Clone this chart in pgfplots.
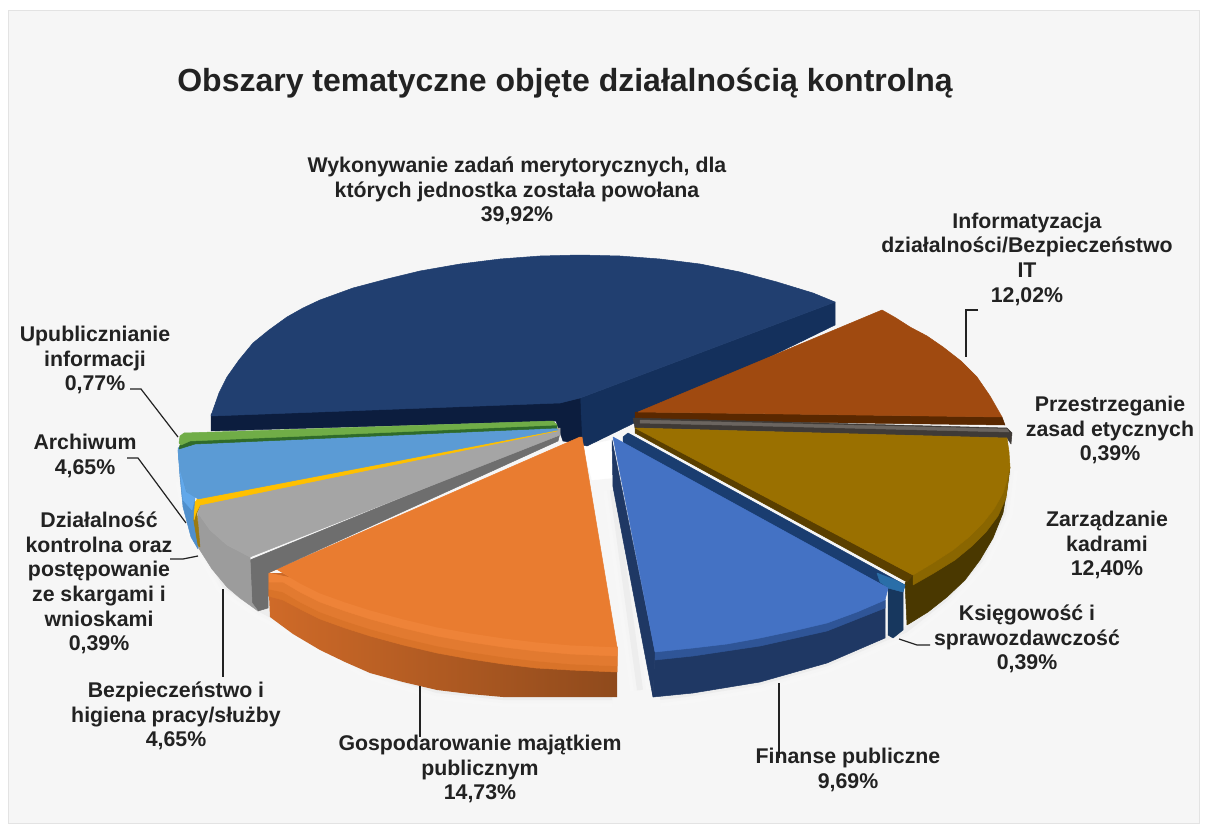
\documentclass[border=0pt]{standalone}
\usepackage{pgfplots}
\pgfplotsset{compat=1.18}
\usepackage{fontspec}
\setmainfont{Liberation Sans}
\definecolor{panel}{HTML}{F6F6F6}
\definecolor{ink}{HTML}{222222}
\newcommand\dc[1]{\definecolor{c#1}{HTML}{#1}}
\dc{14305C}\dc{0C1D3E}\dc{213F70}\dc{5A2800}\dc{A04A10}\dc{3F3A36}\dc{6B6560}\dc{4A3800}\dc{8A6600}\dc{5A3F00}\dc{9A7000}
\dc{17375E}\dc{1A3D70}\dc{2A6EA8}\dc{1F3864}\dc{2F5597}\dc{4472C4}\dc{CF6A28}\dc{EE8338}\dc{E27A30}\dc{D97329}\dc{8F4A1C}\dc{E97C30}
\dc{6E6E6E}\dc{9C9C9C}\dc{A5A5A5}\dc{9C7A10}\dc{FFC000}\dc{4F8FCC}\dc{62A8EA}\dc{5B9BD5}\dc{2F6B2A}\dc{70AD47}
\newcommand\poly[2]{\addplot[fill=#1,draw=#1,line width=0.5pt,line join=round,forget plot] coordinates {#2} --cycle;}
\newcommand\lead[1]{\addplot[draw=ink,line width=1.2pt,forget plot] coordinates {#1};}
\newcommand\shad[1]{%
  \addplot[draw=black!3,line width=20pt,line join=round,forget plot] coordinates {#1};
  \addplot[draw=black!4,line width=12pt,line join=round,forget plot] coordinates {#1};
  \addplot[draw=black!7,line width=6pt,line join=round,forget plot] coordinates {#1};}
\newcommand\lab[2]{\node[align=center,font=\fontsize{21.3}{24.7}\selectfont\bfseries,text=ink,inner sep=0pt] at (axis cs:#1) {#2};}
\begin{document}
\begin{tikzpicture}
\begin{axis}[
  at={(0,0)},anchor=south west,
  scale only axis,width=1207pt,height=832pt,
  xmin=0,xmax=1207,ymin=0,ymax=832,y dir=reverse,
  hide axis,clip=false,no markers]
% page and panel
\addplot[fill=white,draw=none,forget plot] coordinates {(0,0)(1207,0)(1207,832)(0,832)} --cycle;
\addplot[fill=panel,draw=black!11,line width=0.8pt,forget plot] coordinates {(8,10)(1199,10)(1199,823)(8,823)} --cycle;
% soft shadows
\shad{(185,480)(195,530)(225,585)(262,610)(300,630)(370,670)(437,690)(503,697)(612,697)}
\shad{(660,697)(693,693)(760,682)(827,663)(885,638)(905,630)(947,597)(980,560)(1003,513)(1008,470)}
\shad{(613,490)(640,690)}
% white gap
\poly{white}{(583,446)(612,440)(612,478)(592,480)}
% big dark blue sector
\poly{c14305C}{(580,398)(835,302)(835,325)(587,446)(570,442)}
\poly{c0C1D3E}{(211,414)(580,398)(582,444)(563,441)(556,421)(211,431)}
\poly{c213F70}{(211,416)(213,410)(219,393)(227,377)(239,360)(253,343)(269,330)(287,317)(303,308)(320,300)(353,288)(387,279)(420,271)(460,264)(500,259)(540,256)(580,255)(620,256)(660,259)(700,264)(740,272)(777,282)(813,293)(835,302)(580,398)(560,403)}
% brown
\poly{c5A2800}{(635,412)(1002,417)(1005,425)(635,420)}
\poly{cA04A10}{(638,412)(882,310)(896,318)(910,327)(927,336)(943,347)(961,361)(977,377)(990,396)(1002,417)}
% grey thin
\poly{c3F3A36}{(633,418)(1007,428)(1012,433)(1011,444)(1007,438)(635,428)}
\poly{c6B6560}{(640,420)(1007,429)(1009,432)(640,423)}
% gold
\poly{c4A3800}{(1010,467)(1007,490)(1003,513)(993,538)(980,560)(965,580)(947,597)(928,612)(907,625)(905,583)(913,575)}
\poly{c8A6600}{(1010,467)(1007,480)(1003,493)(994,509)(983,523)(969,537)(953,550)(933,563)(913,575)(913,585)(934,573)(955,560)(972,546)(986,532)(998,516)(1006,498)}
\poly{c5A3F00}{(635,427)(635,433)(907,582)(913,575)}
\poly{c9A7000}{(635,428)(1007,438)(1009,452)(1010,467)(1007,480)(1003,493)(994,509)(983,523)(969,537)(953,550)(933,563)(913,575)}
% Ksiegowosc
\poly{c17375E}{(888,588)(903,592)(903,630)(893,638)(888,635)}
\poly{c1A3D70}{(623,437)(628,433)(905,585)(903,592)(888,588)(623,445)}
\poly{c2A6EA8}{(877,573)(895,580)(905,585)(903,592)(888,588)(880,582)}
% Finanse
\poly{c1F3864}{(612,440)(613,487)(653,697)(655,652)}
\poly{c1F3864}{(655,652)(693,648)(760,638)(827,623)(885,600)(885,638)(827,663)(760,682)(693,693)(653,697)}
\poly{c2F5597}{(655,652)(693,648)(760,638)(827,623)(885,600)(885,608)(827,631)(760,646)(693,656)(655,660)}
\poly{c4472C4}{(613,437)(888,588)(885,600)(857,612)(827,623)(793,631)(760,638)(727,644)(693,648)(655,652)}
% Orange
\addplot[left color=cCF6A28,right color=c8F4A1C,draw=none,forget plot] coordinates {(268,573)(270,617)(293,634)(320,650)(345,662)(370,673)(403,682)(437,690)(470,694)(503,697)(560,697)(617,697)(617,647)(570,645)(503,638)(437,627)(370,610)(320,593)(283,573)} --cycle;
\poly{cD97329}{(268,573)(268,596)(283,600)(300,609)(320,619)(345,628)(370,636)(403,645)(437,653)(470,659)(503,664)(536,668)(570,670)(617,672)(617,647)}
\poly{cE27A30}{(268,573)(268,589)(283,592)(300,602)(320,612)(345,621)(370,629)(403,638)(437,646)(470,652)(503,657)(536,661)(570,664)(617,666)(617,647)}
\poly{cEE8338}{(268,573)(269,582)(283,582)(300,592)(320,602)(345,611)(370,619)(403,628)(437,636)(470,642)(503,647)(536,651)(570,654)(617,656)(617,647)}
\poly{cE97C30}{(580,437)(582,437)(617,647)(570,645)(536,642)(503,638)(470,633)(437,627)(403,619)(370,610)(345,602)(320,593)(300,583)(283,573)(273,567)(268,573)}
% Grey sector
\poly{c6E6E6E}{(250,560)(560,433)(558,441)(268,573)(268,608)(258,611)(252,603)}
\poly{c9C9C9C}{(198,513)(210,530)(227,545)(250,557)(252,603)(258,611)(240,598)(227,587)(212,569)(198,547)}
\poly{cA5A5A5}{(198,513)(200,503)(560,428)(560,435)(250,557)(227,545)(210,530)}
% Yellow
\poly{c9C7A10}{(193,507)(200,505)(197,513)(200,547)(197,545)(193,523)}
\poly{cFFC000}{(193,505)(198,498)(557,428)(557,431)(200,505)(196,513)(194,520)}
% Light blue
\poly{c4F8FCC}{(178,450)(180,477)(183,507)(191,537)(198,549)(196,538)(193,520)(195,497)(186,490)}
\poly{c62A8EA}{(178,450)(180,470)(186,492)(195,497)(192,510)(183,500)}
\poly{c5B9BD5}{(178,448)(190,442)(553,425)(558,430)(198,499)(195,497)(187,492)(180,470)}
% Green
\poly{c2F6B2A}{(180,445)(190,440)(557,425)(557,428)(195,444)(179,449)}
\poly{c70AD47}{(179,443)(180,436)(184,433)(553,421)(557,425)(190,441)(181,445)}
% leader lines
\lead{(978,310)(966,310)(966,357)}
\lead{(130,389)(141,389)(178,437)}
\lead{(127,458)(138,458)(186,523)}
\lead{(170,559)(183,559)(198,556)}
\lead{(223,589)(223,677)}
\lead{(420,686)(420,737)}
\lead{(779,683)(779,758)}
\lead{(899,639)(917,645)(930,645)}
% texts
\node[font=\fontsize{32}{36}\selectfont\bfseries,text=ink,inner sep=0pt] at (axis cs:565,83) {Obszary tematyczne objęte działalnością kontrolną};
\lab{517,191}{Wykonywanie zadań merytorycznych, dla\\których jednostka została powołana\\39,92\%}
\lab{1027,259}{Informatyzacja\\działalności/Bezpieczeństwo\\IT\\12,02\%}
\lab{1110,430}{Przestrzeganie\\zasad etycznych\\0,39\%}
\lab{1107,545}{Zarządzanie\\kadrami\\12,40\%}
\lab{1027,639}{Księgowość i\\sprawozdawczość\\0,39\%}
\lab{848,770}{Finanse publiczne\\9,69\%}
\lab{480,769}{Gospodarowanie majątkiem\\publicznym\\14,73\%}
\lab{176,716}{Bezpieczeństwo i\\higiena pracy/służby\\4,65\%}
\lab{99,583}{Działalność\\kontrolna oraz\\postępowanie\\ze skargami i\\wnioskami\\0,39\%}
\lab{85,456}{Archiwum\\4,65\%}
\lab{95,360}{Upublicznianie\\informacji\\0,77\%}
\end{axis}
\end{tikzpicture}
\end{document}
